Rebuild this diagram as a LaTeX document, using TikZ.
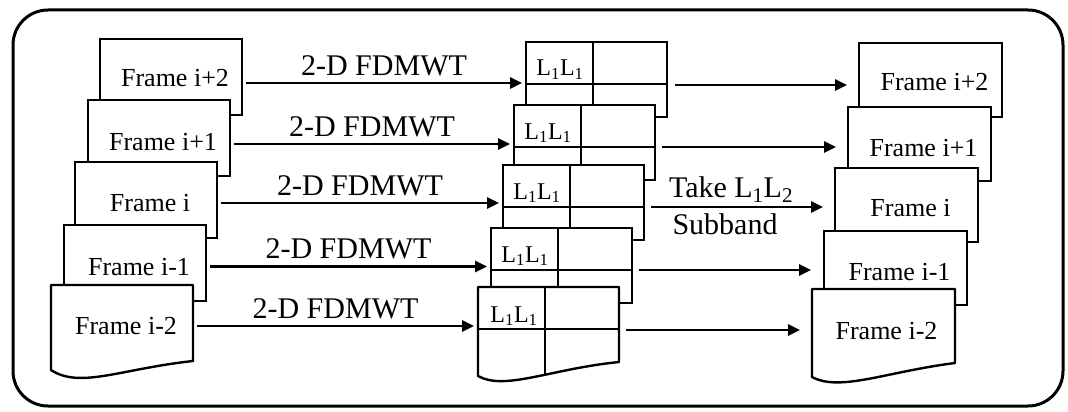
\documentclass[tikz,border=0pt]{standalone}
\usepackage{fontspec}
\setmainfont{Liberation Serif}
\usetikzlibrary{arrows.meta,calc}
\begin{document}
\begin{tikzpicture}[x=1pt,y=-1pt,
  lframe/.style={draw, fill=white, line width=2.4pt, minimum width=142pt, minimum height=76pt, anchor=north west, inner sep=0pt, outer sep=0pt},
  gframe/.style={lframe, minimum width=141pt, minimum height=75pt},
  rframe/.style={lframe, minimum width=143pt, minimum height=74pt},
  ghost/.style={draw=none, fill=none},
  wshape/.style={draw, fill=white, line width=2.4pt, line join=round},
  div/.style={line width=2.4pt},
  arr/.style={line width=2.6pt, -{Triangle[length=12pt,width=11pt]}},
  ftext/.style={font=\fontsize{26}{30}\selectfont, inner sep=0pt},
  lab/.style={font=\fontsize{30}{34}\selectfont, inner sep=0pt},
  sublab/.style={font=\fontsize{24}{28}\selectfont, inner sep=0pt, anchor=base},
]
\useasboundingbox (0,0) rectangle (1068,412);
\draw[line width=3pt, rounded corners=35pt] (13,10) rectangle (1063,406);

% ---------- left frames ----------
\node[lframe] (lf1) at (100,39) {};
\node[lframe] (lf2) at (88,100) {};
\node[lframe] (lf3) at (75,162) {};
\node[lframe] (lf4) at (64,225) {};
\node[lframe, ghost] (lf5) at (51,285) {};
\draw[wshape] (lf5.north west) -- (lf5.north east) -- (lf5.south east)
  .. controls ($(lf5.south west)+(69,8)$) and ($(lf5.south west)+(29,28)$) .. ($(lf5.south west)+(0,9)$) -- cycle;
\node[ftext] (lt1) at ($(lf1.center)+(4,1)$) {Frame i+2};
\node[ftext] (lt2) at ($(lf2.center)+(4,4)$) {Frame i+1};
\node[ftext] (lt3) at ($(lf3.center)+(4,3)$) {Frame i};
\node[ftext] (lt4) at ($(lf4.center)+(4,4)$) {Frame i-1};
\node[ftext] (lt5) at ($(lf5.center)+(4,3)$) {Frame i-2};

% ---------- middle grids ----------
\foreach \n/\x/\y in {1/526/42, 2/514/105, 3/503/165, 4/491/228}{
  \node[gframe] (g\n) at (\x,\y) {};
  \draw[div] ($(g\n.north west)+(67,0)$) -- ($(g\n.south west)+(67,0)$);
  \draw[div] ($(g\n.north west)+(0,42)$) -- ($(g\n.north east)+(0,42)$);
  \node[sublab] (gl\n) at ($(g\n.north west)+(34,34)$) {L\textsubscript{1}L\textsubscript{1}};
}
\node[gframe, ghost] (g5) at (478,287) {};
\draw[wshape] (g5.north west) -- (g5.north east) -- (g5.south east)
  .. controls ($(g5.south west)+(72,7)$) and ($(g5.south west)+(27,29)$) .. ($(g5.south west)+(0,14)$) -- cycle;
\draw[div] ($(g5.north west)+(67,0)$) -- ($(g5.south west)+(67,13)$);
\draw[div] ($(g5.north west)+(0,42)$) -- ($(g5.north east)+(0,42)$);
\node[sublab] (gl5) at ($(g5.north west)+(36,35)$) {L\textsubscript{1}L\textsubscript{1}};

% ---------- right frames ----------
\node[rframe] (rf1) at (859,43) {};
\node[rframe] (rf2) at (848,107) {};
\node[rframe] (rf3) at (835,168) {};
\node[rframe] (rf4) at (824,231) {};
\node[rframe, ghost] (rf5) at (812,289) {};
\draw[wshape] (rf5.north west) -- (rf5.north east) -- (rf5.south east)
  .. controls ($(rf5.south west)+(73,9)$) and ($(rf5.south west)+(28,29)$) .. ($(rf5.south west)+(0,14)$) -- cycle;
\node[ftext] (rt1) at ($(rf1.center)+(4,2)$) {Frame i+2};
\node[ftext] (rt2) at ($(rf2.center)+(4,4)$) {Frame i+1};
\node[ftext] (rt3) at ($(rf3.center)+(4,3)$) {Frame i};
\node[ftext] (rt4) at ($(rf4.center)+(4,4)$) {Frame i-1};
\node[ftext] (rt5) at ($(rf5.center)+(3,5)$) {Frame i-2};

% ---------- left arrows ----------
\foreach \n/\d in {1/6, 2/6, 3/3, 4/3.5, 5/3}{
  \draw[arr] ($(lf\n.east)+(4,\d)$) -- ($(lf\n.east -| g\n.west)+(-4,\d)$)
    node[lab, midway, anchor=base, yshift=8pt] (dl\n) {2-D FDMWT};
}

% ---------- right arrows ----------
\draw[arr] ($(g1.east)+(8,5.5)$) -- ($(g1.east -| rf1.west)+(-12,5.5)$);
\draw[arr] ($(g2.east)+(7,4.5)$) -- ($(g2.east -| rf2.west)+(-12,4.5)$);
\draw[arr] ($(g3.east)+(7,4.5)$) -- ($(g3.east -| rf3.west)+(-12,4.5)$)
  node[lab, midway, anchor=base, yshift=10pt, xshift=-6pt] (take) {Take L\textsubscript{1}L\textsubscript{2}}
  node[lab, midway, anchor=north, yshift=-5pt, xshift=-12pt] (subb) {Subband};
\draw[arr] ($(g4.east)+(7,4.5)$) -- ($(g4.east -| rf4.west)+(-13,4.5)$);
\draw[arr] ($(g5.east)+(7,5.5)$) -- ($(g5.east -| rf5.west)+(-12,5.5)$);
\end{tikzpicture}
\end{document}
